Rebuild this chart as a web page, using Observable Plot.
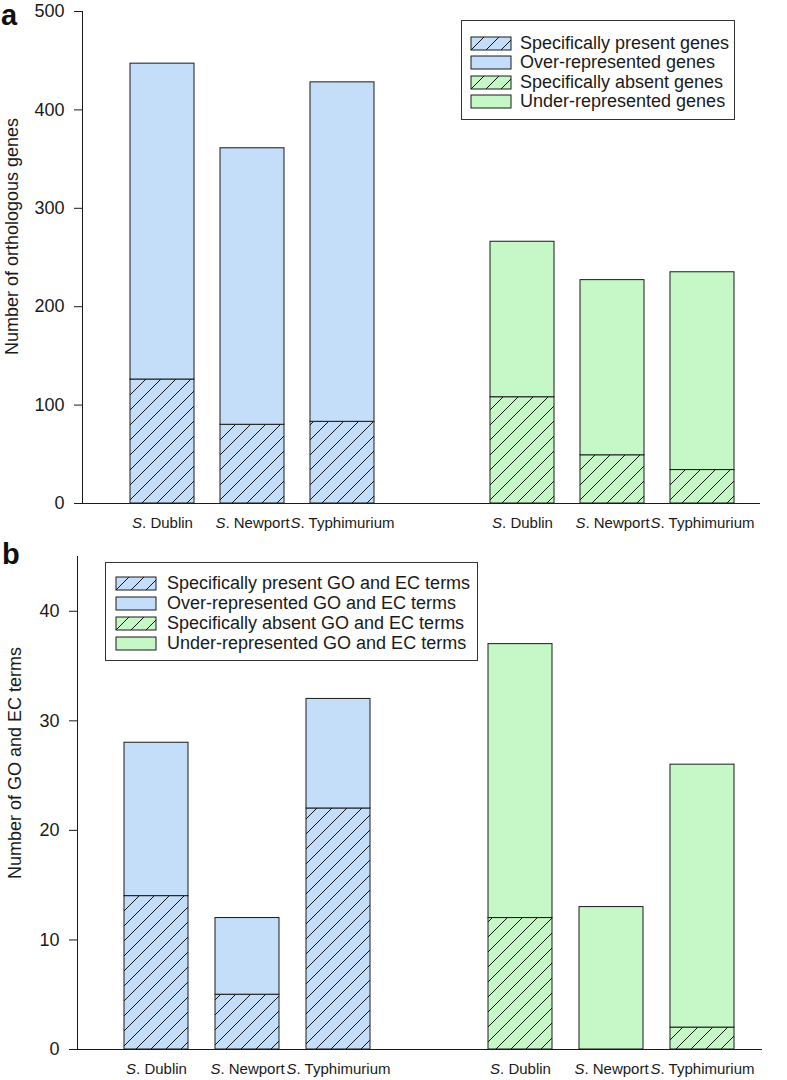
<!DOCTYPE html>
<html><head><meta charset="utf-8">
<script src="https://cdn.jsdelivr.net/npm/d3@7"></script>
<script src="https://cdn.jsdelivr.net/npm/@observablehq/plot@0.6"></script>
<style>
body{margin:0;background:#fff;font-family:"Liberation Sans",Arial,sans-serif;}
#wrap{position:relative;width:787px;height:1080px;overflow:hidden;}
.panel{position:absolute;left:0;}
.plabel{position:absolute;font-weight:bold;font-size:29px;line-height:1.1;color:#111;}
.legend{position:absolute;border:1px solid #333;background:#fff;box-sizing:border-box;}
.legend .row{position:absolute;left:0;height:20px;display:flex;align-items:center;font-size:18px;white-space:nowrap;color:#1a1a1a;}
.legend .row svg{display:block;}
</style></head>
<body>
<svg width="0" height="0" style="position:absolute">
<defs>
<pattern id="hatchBlue" patternUnits="userSpaceOnUse" width="15" height="15">
<rect width="15" height="15" fill="#c4ddf8"/>
<path d="M-2,2 L2,-2 M0,15 L15,0 M13,17 L17,13" stroke="#111" stroke-width="1"/>
</pattern>
<pattern id="hatchGreen" patternUnits="userSpaceOnUse" width="15" height="15">
<rect width="15" height="15" fill="#c6f7c6"/>
<path d="M-2,2 L2,-2 M0,15 L15,0 M13,17 L17,13" stroke="#111" stroke-width="1"/>
</pattern>
</defs></svg>
<div id="wrap"></div>
<script>
// ---- data ----
const strains = ["Dublin", "Newport", "Typhimurium"];
// panel a: orthologous genes
const genesSpecificPresent = [126, 80, 83];
const genesOverTotal = [447, 361, 428];
const genesSpecificAbsent = [108, 49, 34];
const genesUnderTotal = [266, 227, 235];
// panel b: GO and EC terms
const termsSpecificPresent = [14, 5, 22];
const termsOverTotal = [28, 12, 32];
const termsSpecificAbsent = [12, 0, 2];
const termsUnderTotal = [37, 13, 26];

const genesTicks = [0, 100, 200, 300, 400, 500];
const termsTicks = [0, 10, 20, 30, 40];
const legendA = ["Specifically present genes", "Over-represented genes", "Specifically absent genes", "Under-represented genes"];
const legendB = ["Specifically present GO and EC terms", "Over-represented GO and EC terms", "Specifically absent GO and EC terms", "Under-represented GO and EC terms"];

const BLUE = "#c4ddf8", GREEN = "#c6f7c6", INK = "#1a1a1a";
const FONT = "'Liberation Sans', Arial, sans-serif";

const keysOver = strains.map(s => "over-" + s);
const keysUnder = strains.map(s => "under-" + s);
const xDomain = [...keysOver, "gap", ...keysUnder];
const nameOf = k => k === "gap" ? "" : "S. " + k.split("-")[1];

function rows(keys, spec, total) {
  return keys.map((k, i) => ({key: k, specific: spec[i], total: total[i]}));
}

function makePanel(cfg) {
  const over = rows(keysOver, cfg.specOver, cfg.totOver);
  const under = rows(keysUnder, cfg.specUnder, cfg.totUnder);
  const chart = Plot.plot({
    width: 787, height: cfg.height,
    marginLeft: cfg.ml, marginRight: cfg.mr, marginTop: cfg.mt, marginBottom: cfg.mb,
    style: {fontFamily: FONT, fontSize: "18px", color: INK, background: "transparent", overflow: "visible"},
    x: {domain: xDomain, tickFormat: nameOf, tickSize: 0, tickPadding: 14, label: null,
        paddingInner: cfg.pi, paddingOuter: cfg.po, align: cfg.align},
    y: {domain: cfg.yDomain, ticks: cfg.ticks, tickSize: 8, tickPadding: 10, label: null, line: true},
    marks: [
      Plot.barY(over, {x: "key", y1: 0, y2: "specific", fill: "url(#hatchBlue)", stroke: INK, strokeWidth: 1}),
      Plot.barY(over, {x: "key", y1: "specific", y2: "total", fill: BLUE, stroke: INK, strokeWidth: 1}),
      Plot.barY(under, {x: "key", y1: 0, y2: "specific", fill: "url(#hatchGreen)", stroke: INK, strokeWidth: 1}),
      Plot.barY(under, {x: "key", y1: "specific", y2: "total", fill: GREEN, stroke: INK, strokeWidth: 1}),
      Plot.ruleY([0], {insetLeft: -7, stroke: INK}),
      Plot.text([cfg.title], {frameAnchor: "left", textAnchor: "middle", rotate: -90, dx: cfg.tdx, dy: cfg.tdy, fontSize: 18, fill: INK, text: d => d})
    ]
  });
  // italic "S" in tick labels
  d3.select(chart).selectAll('g[aria-label="x-axis tick label"] text').each(function() {
    const t = this.textContent;
    if (!t) return;
    const sel = d3.select(this);
    sel.text(null).attr("font-size", 15);
    sel.append("tspan").attr("font-style", "italic").text(t.slice(0, 1));
    sel.append("tspan").text(t.slice(1));
  });
  return chart;
}

function makeLegend(labels, box) {
  const div = document.createElement("div");
  div.className = "legend";
  Object.assign(div.style, {left: box.left + "px", top: box.top + "px", width: box.width + "px", height: box.height + "px"});
  const fills = ["url(#hatchBlue)", BLUE, "url(#hatchGreen)", GREEN];
  labels.forEach((lab, i) => {
    const row = document.createElement("div");
    row.className = "row";
    row.style.top = (box.first + i * box.step - 10) + "px";
    row.style.left = box.swx + "px";
    row.innerHTML = `<svg width="${box.sww + 2}" height="15"><rect x="1" y="1" width="${box.sww}" height="13" fill="${fills[i]}" stroke="${INK}" stroke-width="1"/></svg><span style="margin-left:${box.gap}px">${lab}</span>`;
    div.appendChild(row);
  });
  return div;
}

const wrap = document.getElementById("wrap");

const a = makePanel({
  height: 540, ml: 82, mr: 27, mt: 11, mb: 37,
  pi: 0.293, po: 0.392, align: 0.65,
  yDomain: [0, 500], ticks: genesTicks,
  specOver: genesSpecificPresent, totOver: genesOverTotal,
  specUnder: genesSpecificAbsent, totUnder: genesUnderTotal,
  title: "Number of orthologous genes", tdx: -70, tdy: -21
});
const pa = document.createElement("div"); pa.className = "panel"; pa.style.top = "0px"; pa.appendChild(a);
wrap.appendChild(pa);

const b = makePanel({
  height: 540, ml: 77, mr: 25, mt: 16, mb: 31,
  pi: 0.299, po: 0.4, align: 0.62,
  yDomain: [0, 45], ticks: termsTicks,
  specOver: termsSpecificPresent, totOver: termsOverTotal,
  specUnder: termsSpecificAbsent, totUnder: termsUnderTotal,
  title: "Number of GO and EC terms", tdx: -62, tdy: -40
});
const pb = document.createElement("div"); pb.className = "panel"; pb.style.top = "540px"; pb.appendChild(b);
wrap.appendChild(pb);

wrap.appendChild(makeLegend(legendA, {left: 461, top: 20, width: 274, height: 100, first: 22, step: 19.5, swx: 8, sww: 40, gap: 8}));
wrap.appendChild(makeLegend(legendB, {left: 105, top: 562, width: 373, height: 99, first: 20, step: 20, swx: 9, sww: 40, gap: 10}));

const la = document.createElement("div"); la.className = "plabel"; la.textContent = "a"; la.style.left = "1px"; la.style.top = "0px";
const lb = document.createElement("div"); lb.className = "plabel"; lb.textContent = "b"; lb.style.left = "2px"; lb.style.top = "539px";
wrap.appendChild(la); wrap.appendChild(lb);
</script>
</body></html>
